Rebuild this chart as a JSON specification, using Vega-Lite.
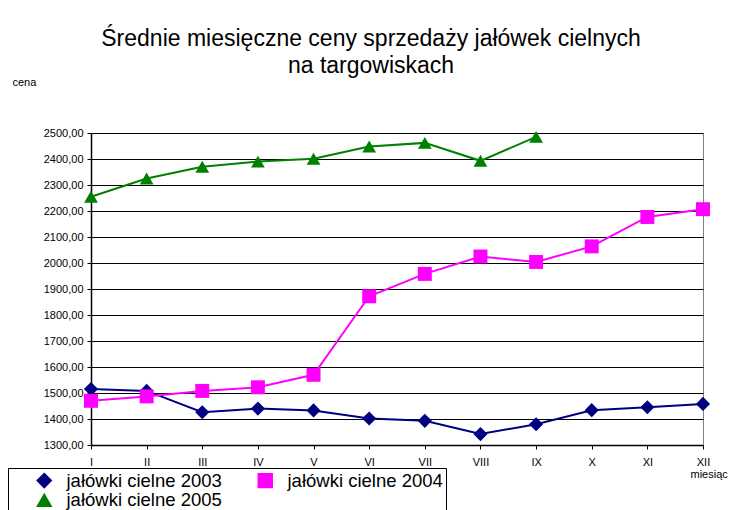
{
  "$schema": "https://vega.github.io/schema/vega-lite/v6.json",
  "width": 612,
  "height": 312,
  "autosize": {"type": "none"},
  "padding": {"left": 91, "top": 133, "right": 31, "bottom": 65},
  "background": "white",
  "config": {
    "locale": {"number": {"decimal": ",", "thousands": " ", "grouping": [3], "currency": ["", " zł"]}},
    "font": "Liberation Sans",
    "view": {"stroke": "#808080", "strokeWidth": 1}
  },
  "title": {
    "text": ["Średnie miesięczne ceny sprzedaży jałówek cielnych", "na targowiskach"],
    "font": "Liberation Sans",
    "fontSize": 23,
    "fontWeight": "normal",
    "color": "black",
    "anchor": "middle",
    "frame": "group",
    "dx": -26,
    "lineHeight": 27,
    "baseline": "bottom",
    "offset": -25
  },
  "data": {
    "values": [
      {"month": "I", "series": "jałówki cielne 2003", "value": 1515},
      {"month": "II", "series": "jałówki cielne 2003", "value": 1508},
      {"month": "III", "series": "jałówki cielne 2003", "value": 1426},
      {"month": "IV", "series": "jałówki cielne 2003", "value": 1440},
      {"month": "V", "series": "jałówki cielne 2003", "value": 1433},
      {"month": "VI", "series": "jałówki cielne 2003", "value": 1402},
      {"month": "VII", "series": "jałówki cielne 2003", "value": 1393},
      {"month": "VIII", "series": "jałówki cielne 2003", "value": 1342},
      {"month": "IX", "series": "jałówki cielne 2003", "value": 1380},
      {"month": "X", "series": "jałówki cielne 2003", "value": 1434},
      {"month": "XI", "series": "jałówki cielne 2003", "value": 1445},
      {"month": "XII", "series": "jałówki cielne 2003", "value": 1458},
      {"month": "I", "series": "jałówki cielne 2004", "value": 1470},
      {"month": "II", "series": "jałówki cielne 2004", "value": 1487},
      {"month": "III", "series": "jałówki cielne 2004", "value": 1508},
      {"month": "IV", "series": "jałówki cielne 2004", "value": 1522},
      {"month": "V", "series": "jałówki cielne 2004", "value": 1570},
      {"month": "VI", "series": "jałówki cielne 2004", "value": 1872},
      {"month": "VII", "series": "jałówki cielne 2004", "value": 1958},
      {"month": "VIII", "series": "jałówki cielne 2004", "value": 2025},
      {"month": "IX", "series": "jałówki cielne 2004", "value": 2004},
      {"month": "X", "series": "jałówki cielne 2004", "value": 2064},
      {"month": "XI", "series": "jałówki cielne 2004", "value": 2177},
      {"month": "XII", "series": "jałówki cielne 2004", "value": 2207},
      {"month": "I", "series": "jałówki cielne 2005", "value": 2255},
      {"month": "II", "series": "jałówki cielne 2005", "value": 2325},
      {"month": "III", "series": "jałówki cielne 2005", "value": 2370},
      {"month": "IV", "series": "jałówki cielne 2005", "value": 2390},
      {"month": "V", "series": "jałówki cielne 2005", "value": 2401},
      {"month": "VI", "series": "jałówki cielne 2005", "value": 2448},
      {"month": "VII", "series": "jałówki cielne 2005", "value": 2462},
      {"month": "VIII", "series": "jałówki cielne 2005", "value": 2393},
      {"month": "IX", "series": "jałówki cielne 2005", "value": 2485}
    ]
  },
  "encoding": {
    "x": {
      "field": "month",
      "type": "ordinal",
      "sort": ["I", "II", "III", "IV", "V", "VI", "VII", "VIII", "IX", "X", "XI", "XII"],
      "scale": {"type": "point", "padding": 0},
      "axis": {
        "title": "miesiąc",
        "titleX": 599,
        "titleY": 29,
        "titleAlign": "left",
        "titleBaseline": "middle",
        "titleFontSize": 11,
        "titleFontWeight": "normal",
        "titleColor": "black",
        "labelAngle": 0,
        "labelFontSize": 11,
        "labelColor": "black",
        "labelPadding": 7,
        "labelOverlap": false,
        "tickColor": "black",
        "tickSize": 4,
        "domainColor": "black",
        "domainWidth": 1.5,
        "grid": false
      }
    },
    "y": {
      "field": "value",
      "type": "quantitative",
      "scale": {"domain": [1300, 2500], "nice": false, "zero": false},
      "axis": {
        "values": [1300, 1400, 1500, 1600, 1700, 1800, 1900, 2000, 2100, 2200, 2300, 2400, 2500],
        "format": ".2f",
        "title": "cena",
        "titleAngle": 0,
        "titleX": -79,
        "titleY": -51,
        "titleAlign": "left",
        "titleBaseline": "middle",
        "titleFontSize": 11,
        "titleFontWeight": "normal",
        "titleColor": "black",
        "labelFontSize": 11,
        "labelColor": "black",
        "labelPadding": 4,
        "tickColor": "black",
        "tickSize": 4,
        "domainColor": "black",
        "domainWidth": 1.5,
        "gridColor": "black",
        "gridWidth": 1,
        "gridOpacity": 1
      }
    },
    "color": {
      "field": "series",
      "type": "nominal",
      "scale": {"domain": ["jałówki cielne 2003", "jałówki cielne 2004", "jałówki cielne 2005"], "range": ["#000080", "#FF00FF", "#008000"]},
      "legend": {
        "title": null,
        "orient": "none",
        "legendX": -83,
        "legendY": 335,
        "direction": "horizontal",
        "columns": 2,
        "columnPadding": 10,
        "rowPadding": -2,
        "padding": 3,
        "strokeColor": "black",
        "fillColor": "white",
        "labelFont": "Liberation Sans",
        "labelFontSize": 18.5,
        "labelColor": "black",
        "labelLimit": 400,
        "symbolSize": 100,
        "symbolOffset": 24,
        "labelOffset": 13
      }
    }
  },
  "layer": [
    {
      "mark": {"type": "line", "strokeWidth": 2}
    },
    {
      "mark": {"type": "point", "filled": true, "opacity": 1},
      "encoding": {
        "shape": {
          "field": "series",
          "type": "nominal",
          "scale": {"domain": ["jałówki cielne 2003", "jałówki cielne 2004", "jałówki cielne 2005"], "range": ["diamond", "square", "triangle-up"]},
          "legend": null
        },
        "size": {
          "field": "series",
          "type": "nominal",
          "scale": {"domain": ["jałówki cielne 2003", "jałówki cielne 2004", "jałówki cielne 2005"], "range": [200, 190, 210]},
          "legend": null
        }
      }
    }
  ]
}
